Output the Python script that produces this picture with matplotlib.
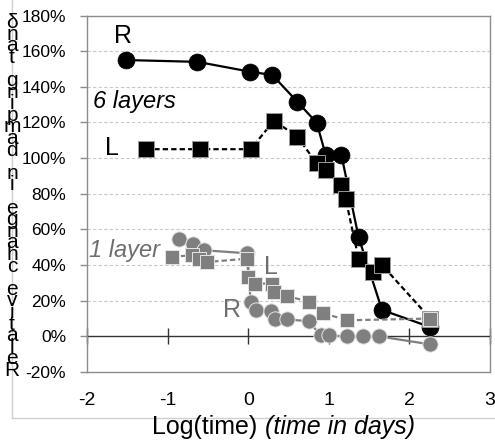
import matplotlib
matplotlib.use("Agg")
import matplotlib.pyplot as plt
from matplotlib.lines import Line2D

plt.rcParams['font.family'] = ['Liberation Sans', 'DejaVu Sans']

# 6 layers, R (black circles, solid line)
six_r_x = [-1.51, -0.63, 0.02, 0.30, 0.61, 0.85, 0.96, 1.155, 1.37, 1.66, 2.26]
six_r_y = [155, 154, 148.5, 146.6, 131.6, 119.8, 102, 102, 55.6, 14.8, 5.2]

# 6 layers, L (black squares, dashed line)
six_l_x = [-1.27, -0.60, 0.03, 0.32, 0.61, 0.85, 0.96, 1.155, 1.21, 1.37, 1.55, 1.66, 2.26]
six_l_y = [105, 105, 105, 121, 112, 97, 93.3, 85, 77, 43.5, 36, 40, 10]

# 1 layer, R (grey circles, solid line)
one_r_x = [-0.86, -0.68, -0.55, -0.01, 0.03, 0.10, 0.28, 0.33, 0.48, 0.75, 0.90, 1.00, 1.23, 1.42, 1.62, 2.26]
one_r_y = [54.5, 52, 48.3, 46.6, 19, 15, 14, 9.5, 9.5, 8.5, 0.5, 0.5, 0, 0, 0, -4.5]

# 1 layer, L (grey squares, dashed line)
one_l_x = [-0.94, -0.70, -0.61, -0.51, -0.01, 0.00, 0.09, 0.30, 0.32, 0.48, 0.76, 0.93, 1.23, 2.26]
one_l_y = [44.6, 45.5, 43.6, 41.7, 43.6, 33.3, 29.6, 29.6, 25, 22.5, 19.5, 13, 9, 10]

x_ticks = [-2, -1, 0, 1, 2, 3]
y_ticks = [-20, 0, 20, 40, 60, 80, 100, 120, 140, 160, 180]
y_label = "Relative change in damping tanδ"

grey = '#7f7f7f'
grey_text = '#6e6e6e'

W, H = 495, 443
fig = plt.figure(figsize=(W / 100, H / 100), dpi=100)
ax = fig.add_axes([87 / W, 1 - 372 / H, (490 - 87) / W, (372 - 15.5) / H])

ax.set_xlim(-2, 3)
ax.set_ylim(-20, 180)

# grid
for v in y_ticks:
    if v not in (0, -20, 180):
        ax.axhline(v, color='#c8c8c8', lw=0.8, ls=(0, (3, 2)), zorder=0)

dash = (0, (2.4, 1.4))
ax.plot(six_r_x, six_r_y, '-', color='black', lw=1.6, marker='o', ms=12.2,
        mfc='black', mec='black', mew=0.5, zorder=3)
ax.plot(six_l_x, six_l_y, color='black', ls=dash, lw=1.6, marker='s', ms=11.5,
        mfc='black', mec='#9a9a9a', mew=0.7, zorder=4)
ax.plot(one_r_x, one_r_y, '-', color=grey, lw=1.6, marker='o', ms=11,
        mfc=grey, mec='#e6e6e6', mew=0.7, zorder=5)
ax.plot(one_l_x, one_l_y, color=grey, ls=dash, lw=1.6, marker='s', ms=10.5,
        mfc=grey, mec='#e6e6e6', mew=0.7, zorder=6)

# annotations
ax.text(-1.55, 168.5, 'R', fontsize=18, ha='center', va='center', color='black')
ax.text(-1.685, 105.6, 'L', fontsize=18, ha='center', va='center', color='black')
ax.text(-1.93, 131.5, '6 layers', fontsize=17, style='italic', ha='left', va='center')
ax.text(-1.53, 48.3, '1 layer', fontsize=17, style='italic', ha='center', va='center', color=grey_text)
ax.text(0.28, 39, 'L', fontsize=18, ha='center', va='center', color=grey_text)
ax.text(-0.20, 14.6, 'R', fontsize=18, ha='center', va='center', color=grey_text)

# frame
for s in ax.spines.values():
    s.set_color('#8c8c8c')
    s.set_linewidth(1.0)

ax.set_xticks(x_ticks)
ax.set_xticklabels([str(t) for t in x_ticks])
ax.tick_params(axis='x', length=0, pad=14.5, labelsize=14)
ax.set_yticks(y_ticks)
ax.set_yticklabels(['%d%%' % t for t in y_ticks])
ax.tick_params(axis='y', length=5, width=1, color='#8c8c8c', pad=10, labelsize=12.5, direction='out')

# horizontal axis through zero with crossing ticks
sec = ax.secondary_xaxis(0.1)
sec.set_xticks(x_ticks)
sec.tick_params(axis='x', direction='inout', length=12, width=1, color='#333333', labelbottom=False)
sec.spines['bottom'].set_color('#333333')
sec.spines['bottom'].set_linewidth(1.0)

fig.text(257 / W, 1 - 427 / H, 'Log(time)', fontsize=18, ha='right', va='center')
fig.text(265 / W, 1 - 427 / H, '(time in days)', fontsize=18, style='italic', ha='left', va='center')

# stacked y label: one character per line, bottom-up reading, lines overlapping
stacked = '\n'.join(reversed(list(y_label)))
top_px, bot_px = 13, 380
ylab = fig.text(12 / W, 1 - (top_px + bot_px) / 2 / H, stacked, fontsize=15,
                ha='center', va='center', ma='center')
renderer = fig.canvas.get_renderer()


def label_height(spacing):
    ylab.set_linespacing(spacing)
    return ylab.get_window_extent(renderer).height


h1 = label_height(0.4)
h2 = label_height(0.6)
target = bot_px - top_px
ls = 0.4 + (target - h1) * (0.6 - 0.4) / (h2 - h1)
ylab.set_linespacing(ls)

# outer chart area border
fig.add_artist(Line2D([12 / W, 12 / W], [1 - 418 / H, 1.0], transform=fig.transFigure,
                      color='#d0d0d0', lw=1, zorder=0))
fig.add_artist(Line2D([12 / W, 1.0], [1 - 418 / H, 1 - 418 / H], transform=fig.transFigure,
                      color='#d0d0d0', lw=1, zorder=0))

fig.savefig('out.png', dpi=100)
